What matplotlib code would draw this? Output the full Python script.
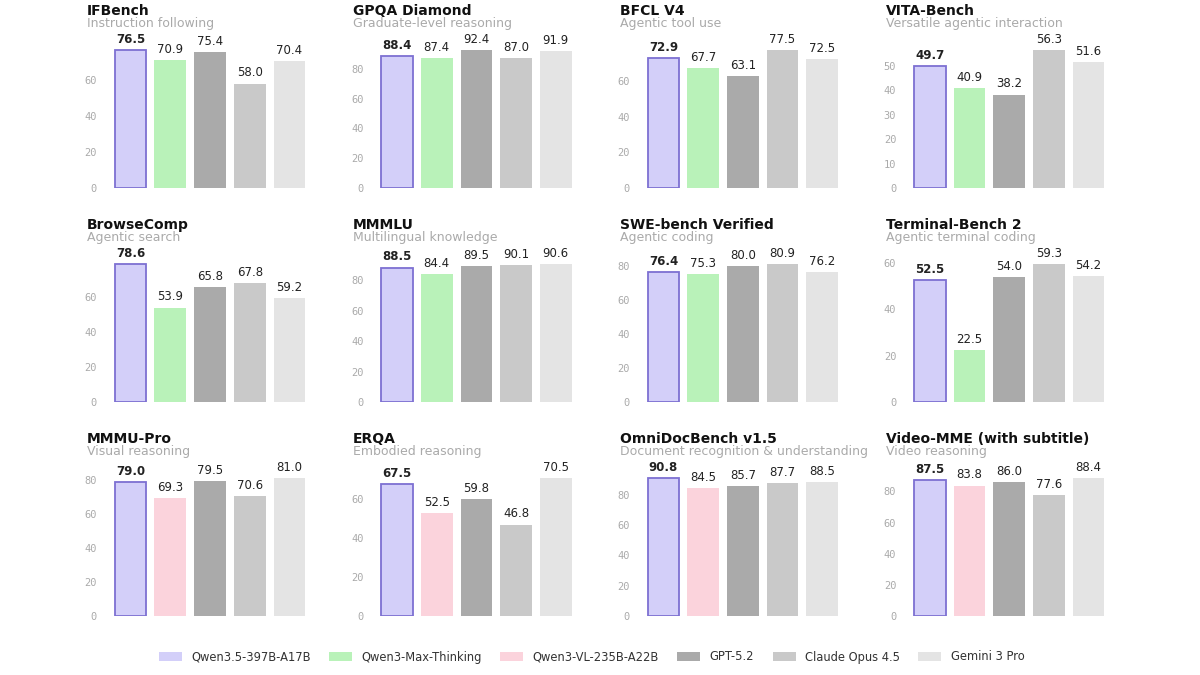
import matplotlib
matplotlib.use("Agg")
import matplotlib.pyplot as plt
import matplotlib.patches as mpatches

# ---------------------------------------------------------------------
# data
# ---------------------------------------------------------------------
models = ["Qwen3.5-397B-A17B", "Qwen3-Max-Thinking", "Qwen3-VL-235B-A22B",
          "GPT-5.2", "Claude Opus 4.5", "Gemini 3 Pro"]

titles = ["IFBench", "GPQA Diamond", "BFCL V4", "VITA-Bench",
          "BrowseComp", "MMMLU", "SWE-bench Verified", "Terminal-Bench 2",
          "MMMU-Pro", "ERQA", "OmniDocBench v1.5", "Video-MME (with subtitle)"]
subtitles = ["Instruction following", "Graduate-level reasoning",
             "Agentic tool use", "Versatile agentic interaction",
             "Agentic search", "Multilingual knowledge", "Agentic coding",
             "Agentic terminal coding",
             "Visual reasoning", "Embodied reasoning",
             "Document recognition & understanding", "Video reasoning"]

# order per panel: Qwen3.5, second Qwen (Max-Thinking or VL), GPT-5.2, Claude, Gemini
scores = [
    [76.5, 70.9, 75.4, 58.0, 70.4],
    [88.4, 87.4, 92.4, 87.0, 91.9],
    [72.9, 67.7, 63.1, 77.5, 72.5],
    [49.7, 40.9, 38.2, 56.3, 51.6],
    [78.6, 53.9, 65.8, 67.8, 59.2],
    [88.5, 84.4, 89.5, 90.1, 90.6],
    [76.4, 75.3, 80.0, 80.9, 76.2],
    [52.5, 22.5, 54.0, 59.3, 54.2],
    [79.0, 69.3, 79.5, 70.6, 81.0],
    [67.5, 52.5, 59.8, 46.8, 70.5],
    [90.8, 84.5, 85.7, 87.7, 88.5],
    [87.5, 83.8, 86.0, 77.6, 88.4],
]
# which model fills slot 2 (index into models)
second_model = [1, 1, 1, 1, 1, 1, 1, 1, 2, 2, 2, 2]

# ---------------------------------------------------------------------
# style
# ---------------------------------------------------------------------
FILLS = ["#d3cff9", "#b9f2b9", "#fbd3dc", "#aaaaaa", "#c9c9c9", "#e4e4e4"]
EDGE_QWEN = "#7d70d2"
TXT = "#222222"
GREY_TXT = "#aaaaaa"

plt.rcParams["font.family"] = "DejaVu Sans"

fig = plt.figure(figsize=(12, 6.75), dpi=100)
fig.patch.set_facecolor("white")

AX_W = 0.172
AX_H = 0.207
lefts = [0.089, 0.311, 0.533, 0.755]
bottoms = [0.7215, 0.4044, 0.0874]

for i, (title, sub, vals) in enumerate(zip(titles, subtitles, scores)):
    r, c = divmod(i, 4)
    ax = fig.add_axes([lefts[c], bottoms[r], AX_W, AX_H])
    idx = [0, second_model[i], 3, 4, 5]
    cols = [FILLS[k] for k in idx]
    x = range(len(vals))
    bars = ax.bar(x, vals, width=0.8, color=cols, edgecolor="none")
    bars[0].set_edgecolor(EDGE_QWEN)
    bars[0].set_linewidth(1.3)

    for j, (b, v) in enumerate(zip(bars, vals)):
        ax.annotate(f"{v:.1f}", (b.get_x() + b.get_width() / 2, v),
                    xytext=(0, 3), textcoords="offset points",
                    ha="center", va="bottom", fontsize=8.5, color=TXT,
                    fontweight="bold" if j == 0 else "normal",
                    annotation_clip=False)

    ax.set_xlim(-0.6, 4.6)
    ax.set_ylim(0, max(vals) * 1.015)
    ax.set_xticks([])
    for s in ax.spines.values():
        s.set_visible(False)
    ax.tick_params(axis="y", length=0, labelsize=7.5, labelcolor=GREY_TXT, pad=7)
    for lab in ax.get_yticklabels():
        lab.set_fontfamily("DejaVu Sans Mono")

    # panel title + subtitle above the axes
    tx = lefts[c] - 20 / 1200
    fig.text(tx, 1 - 11 / 675 - (r * 214) / 675, title, fontsize=10,
             fontweight="bold", color="#111111", va="center", ha="left")
    fig.text(tx, 1 - 24 / 675 - (r * 214) / 675, sub, fontsize=9,
             color=GREY_TXT, va="center", ha="left")

handles = [mpatches.Patch(facecolor=FILLS[k], edgecolor="none", label=m)
           for k, m in enumerate(models)]
fig.legend(handles=handles, loc="center", bbox_to_anchor=(0.493, 1 - 657 / 675),
           ncol=6, frameon=False, fontsize=8.3, handlelength=2.0,
           handleheight=0.9, handletextpad=0.8, columnspacing=1.6,
           labelcolor="#333333")

fig.savefig("out.png", dpi=100, facecolor="white")
